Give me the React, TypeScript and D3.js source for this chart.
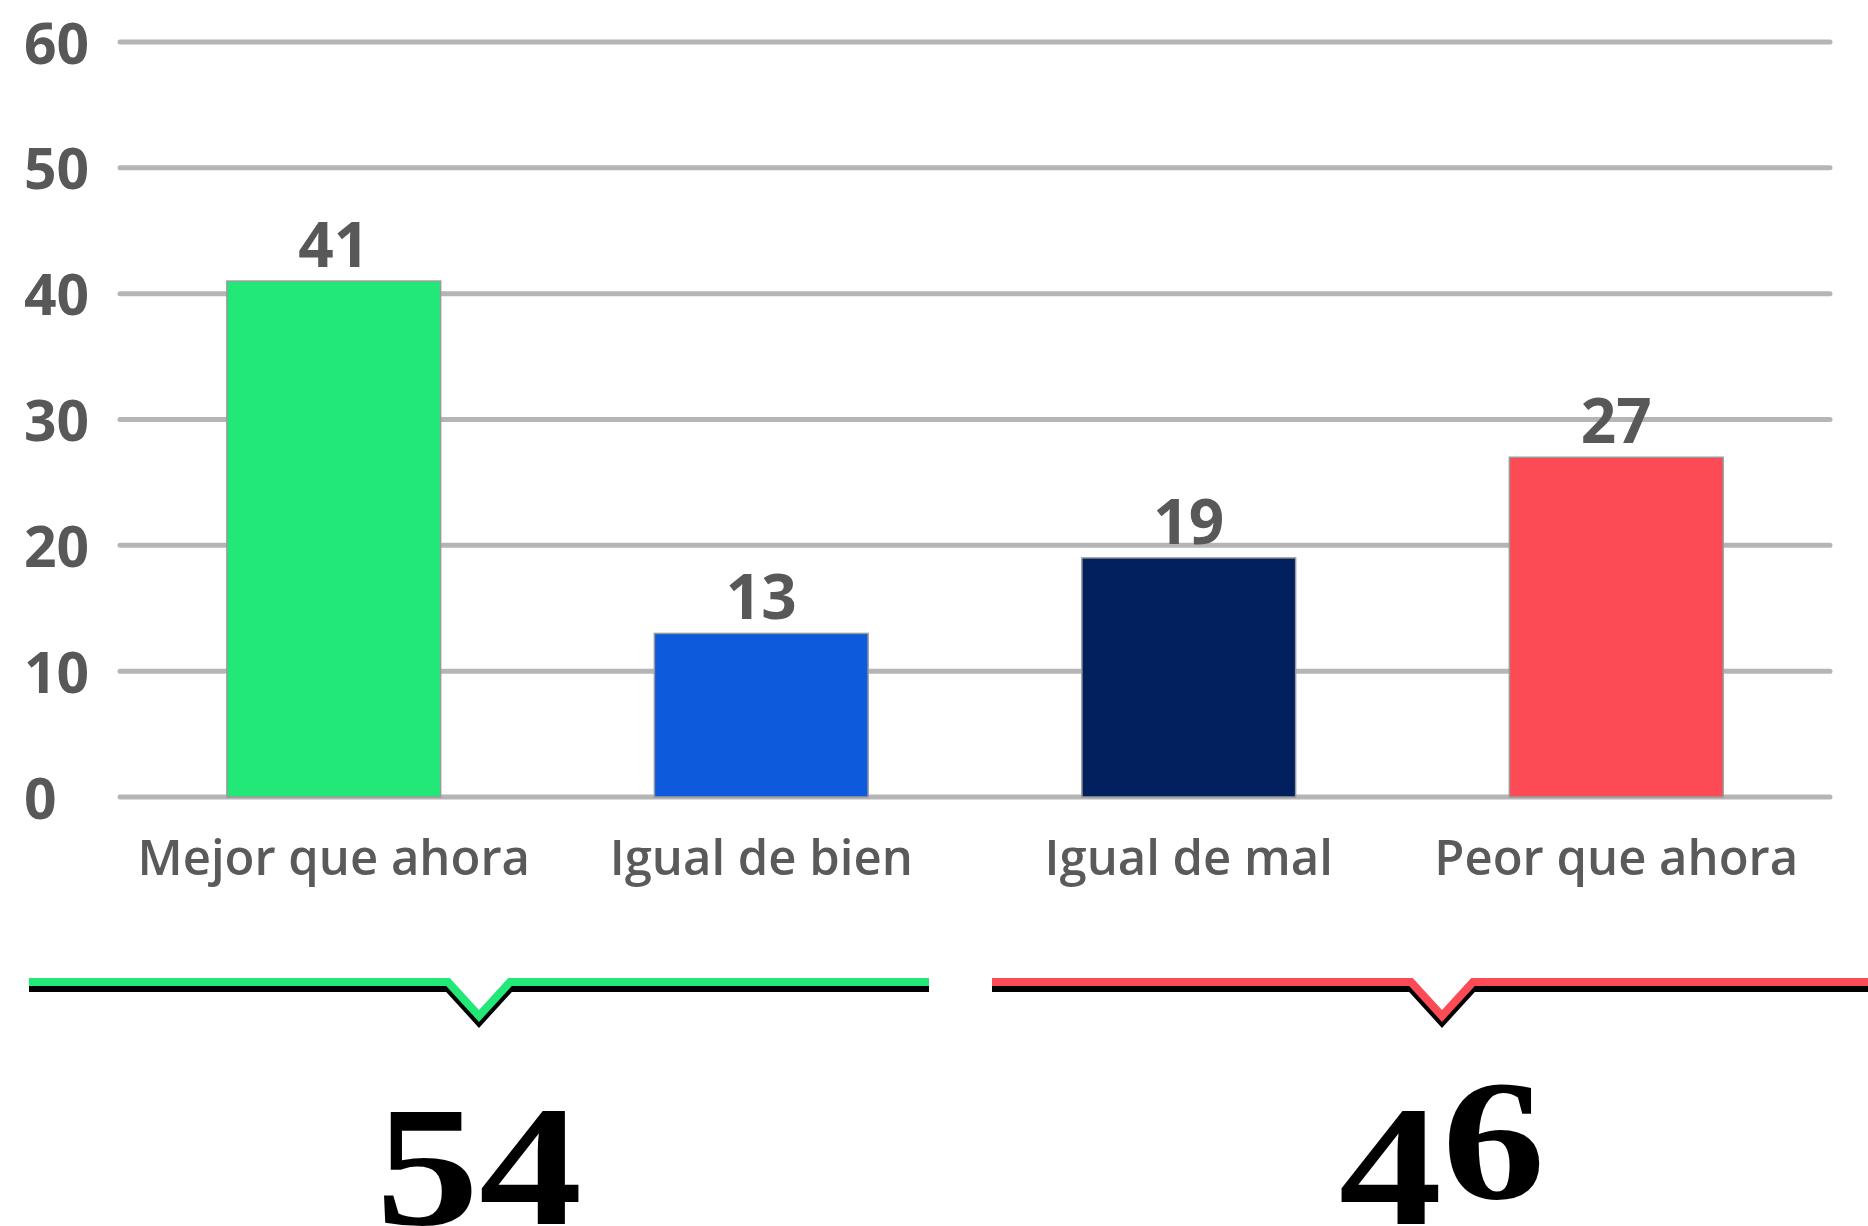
import React, { useEffect } from "react";
import * as d3 from "d3";

const categories = ["Mejor que ahora", "Igual de bien", "Igual de mal", "Peor que ahora"];
const values = [41, 13, 19, 27];
const barColors = ["#22e878", "#0d5bdc", "#02205e", "#fd4b55"];
const yTicks = [0, 10, 20, 30, 40, 50, 60];
const groupTotals = ["54", "46"];
const groupColors = ["#22e878", "#fd4b55"];

const W = 1868;
const H = 1226;
const plot = { left: 120, right: 1830, top: 42, bottom: 797 };

const DESCENDING = new Set(["3", "4", "5", "7", "9"]);

export default function App() {
  useEffect(() => {
    document.body.style.margin = "0";
    document.body.style.overflow = "hidden";
  }, []);

  const x = d3.scaleBand<string>().domain(categories).range([plot.left, plot.right]).paddingInner(0.5).paddingOuter(0.25);
  const y = d3.scaleLinear().domain([0, 60]).range([plot.bottom, plot.top]);

  const bracketX = d3
    .scaleBand<number>()
    .domain(groupTotals.map((_, i) => i))
    .range([29, 29 + 900 * 2 + 63])
    .paddingInner(63 / 963)
    .paddingOuter(0);

  const lineY = 982;
  const vHalf = 31;
  const vDepth = 34;
  const bracketPath = (x0: number, w: number, yy: number) => {
    const cx = x0 + w / 2;
    return d3.line()([
      [x0, yy],
      [cx - vHalf, yy],
      [cx, yy + vDepth],
      [cx + vHalf, yy],
      [x0 + w, yy],
    ]) as string;
  };

  const sans = "'Open Sans', 'Noto Sans', sans-serif";
  const baseB = 1198;
  const desc = 26;

  return (
    <svg width={W} height={H} style={{ display: "block", background: "#fff" }}>
      {/* gridlines */}
      <g>
        {yTicks.map((t) => (
          <line
            key={t}
            x1={plot.left}
            x2={plot.right}
            y1={y(t)}
            y2={y(t)}
            stroke="#b5b5b5"
            strokeWidth={5}
            strokeLinecap="round"
          />
        ))}
      </g>
      {/* y tick labels */}
      <g>
        {yTicks.map((t) => (
          <text
            key={t}
            x={24}
            y={y(t)}
            dy="0.38em"
            textAnchor="start"
            fontFamily={sans}
            fontWeight={700}
            fontSize={57}
            fill="#585858"
          >
            {t}
          </text>
        ))}
      </g>
      {/* bars */}
      <g>
        {categories.map((c, i) => (
          <rect
            key={c}
            x={x(c)}
            y={y(values[i])}
            width={x.bandwidth()}
            height={y(0) - y(values[i])}
            fill={barColors[i]}
            stroke="#9a9a9a"
            strokeWidth={1.5}
          />
        ))}
      </g>
      {/* value labels */}
      <g>
        {categories.map((c, i) => (
          <text
            key={c}
            x={(x(c) as number) + x.bandwidth() / 2}
            y={y(values[i]) - 14}
            textAnchor="middle"
            fontFamily={sans}
            fontWeight={700}
            fontSize={62}
            fill="#585858"
          >
            {values[i]}
          </text>
        ))}
      </g>
      {/* category labels */}
      <g>
        {categories.map((c) => (
          <text
            key={c}
            x={(x(c) as number) + x.bandwidth() / 2}
            y={875}
            textAnchor="middle"
            fontFamily={sans}
            fontWeight={600}
            fontSize={49}
            fill="#5a5a5a"
          >
            {c}
          </text>
        ))}
      </g>
      {/* brackets */}
      <g>
        {groupTotals.map((g, i) => {
          const x0 = bracketX(i) as number;
          const w = bracketX.bandwidth();
          return (
            <g key={g}>
              <path d={bracketPath(x0, w, lineY + 6)} fill="none" stroke="#000" strokeWidth={8} strokeLinejoin="miter" />
              <path d={bracketPath(x0, w, lineY)} fill="none" stroke={groupColors[i]} strokeWidth={8} strokeLinejoin="miter" />
            </g>
          );
        })}
      </g>
      {/* totals */}
      <g>
        {groupTotals.map((g, i) => {
          const cx = (bracketX(i) as number) + bracketX.bandwidth() / 2;
          const digits = g.split("");
          let prev = 0;
          return (
            <text
              key={g}
              transform={`translate(${cx},${baseB}) scale(1.2,1)`}
              textAnchor="middle"
              fontFamily="'Liberation Serif', 'Times New Roman', serif"
              fontWeight={700}
              fontSize={172}
              fill="#000"
            >
              {digits.map((d, k) => {
                const off = DESCENDING.has(d) ? desc : 0;
                const dy = off - prev;
                prev = off;
                return (
                  <tspan key={k} dy={dy}>
                    {d}
                  </tspan>
                );
              })}
            </text>
          );
        })}
      </g>
    </svg>
  );
}
